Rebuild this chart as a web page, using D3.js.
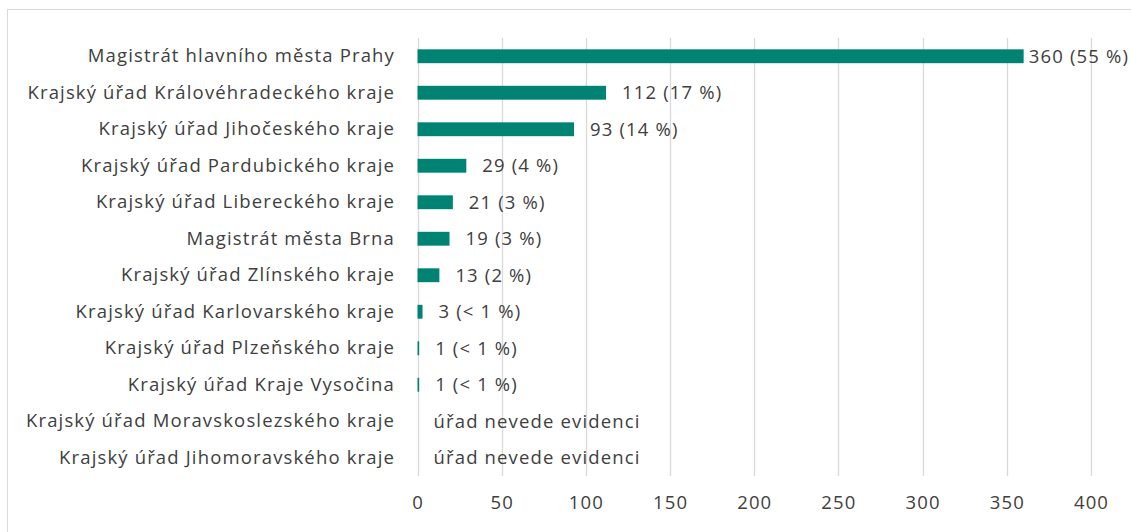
<!DOCTYPE html>
<html><head><meta charset="utf-8">
<script src="https://cdn.jsdelivr.net/npm/d3@7"></script>
<style>
html,body{margin:0;padding:0;background:#fff;}
svg{display:block;font-family:"Open Sans",sans-serif;}
</style></head>
<body><svg id="c" width="1131" height="532"></svg>
<script>
const categories = [
  "Magistrát hlavního města Prahy",
  "Krajský úřad Královéhradeckého kraje",
  "Krajský úřad Jihočeského kraje",
  "Krajský úřad Pardubického kraje",
  "Krajský úřad Libereckého kraje",
  "Magistrát města Brna",
  "Krajský úřad Zlínského kraje",
  "Krajský úřad Karlovarského kraje",
  "Krajský úřad Plzeňského kraje",
  "Krajský úřad Kraje Vysočina",
  "Krajský úřad Moravskoslezského kraje",
  "Krajský úřad Jihomoravského kraje"
];
const values = [360, 112, 93, 29, 21, 19, 13, 3, 1, 1, null, null];
const valueLabels = ["360 (55 %)", "112 (17 %)", "93 (14 %)", "29 (4 %)", "21 (3 %)", "19 (3 %)", "13 (2 %)", "3 (< 1 %)", "1 (< 1 %)", "1 (< 1 %)", "úřad nevede evidenci", "úřad nevede evidenci"];
const xTicks = [0, 50, 100, 150, 200, 250, 300, 350, 400];

const svg = d3.select("#c");
const W = 1131;
const textColor = "#404040";
const gridColor = "#d9d9d9";
const barColor = "#018374";
const fs = 18.5;
const ls = "1.15px";

// chart border (top and left visible)
svg.append("line").attr("x1", 7.5).attr("x2", W).attr("y1", 9.5).attr("y2", 9.5).attr("stroke", gridColor);
svg.append("line").attr("x1", 7.5).attr("x2", 7.5).attr("y1", 9.5).attr("y2", 532).attr("stroke", gridColor);

const x = d3.scaleLinear().domain([0, 400]).range([417.5, 1091]);
const y = d3.scaleBand().domain(categories).range([38, 476]).paddingInner(0.62).paddingOuter(0.31);

// gridlines
svg.append("g").selectAll("line").data(xTicks).join("line")
  .attr("x1", d => Math.round(x(d)) + 0.5).attr("x2", d => Math.round(x(d)) + 0.5)
  .attr("y1", 38).attr("y2", 476)
  .attr("stroke", gridColor).attr("stroke-width", 1.3);

// x axis labels
const xAxis = d3.axisBottom(x).tickValues(xTicks).tickSize(0).tickPadding(0).tickFormat(d3.format("d"));
const gx = svg.append("g").attr("transform", "translate(0,496)").call(xAxis);
gx.select(".domain").remove();
gx.selectAll("text").attr("fill", textColor).attr("font-size", fs).attr("letter-spacing", ls).attr("font-family", "Open Sans, sans-serif");

// y axis labels
const yAxis = d3.axisLeft(y).tickSize(0).tickPadding(0);
const gy = svg.append("g").attr("transform", "translate(395,0)").call(yAxis);
gy.select(".domain").remove();
gy.selectAll("text").attr("fill", textColor).attr("font-size", fs).attr("letter-spacing", ls).attr("font-family", "Open Sans, sans-serif");

// bars
svg.append("g").selectAll("rect").data(categories.map((c, i) => ({c, v: values[i]})).filter(d => d.v != null)).join("rect")
  .attr("x", x(0)).attr("y", d => y(d.c))
  .attr("width", d => x(d.v) - x(0)).attr("height", y.bandwidth())
  .attr("fill", barColor);

// value labels
const lbl = svg.append("g").selectAll("text").data(categories.map((c, i) => ({c, v: values[i], t: valueLabels[i]}))).join("text")
  .attr("y", d => y(d.c) + y.bandwidth() / 2)
  .attr("dy", "0.35em")
  .attr("fill", textColor).attr("font-size", fs).attr("letter-spacing", ls)
  .text(d => d.t);
lbl.each(function(d) {
  const w = this.getComputedTextLength();
  let px = x(d.v || 0) + 16;
  if (px + w > W - 2) px = W - 2 - w;
  d3.select(this).attr("x", px);
});
</script>
</body></html>
